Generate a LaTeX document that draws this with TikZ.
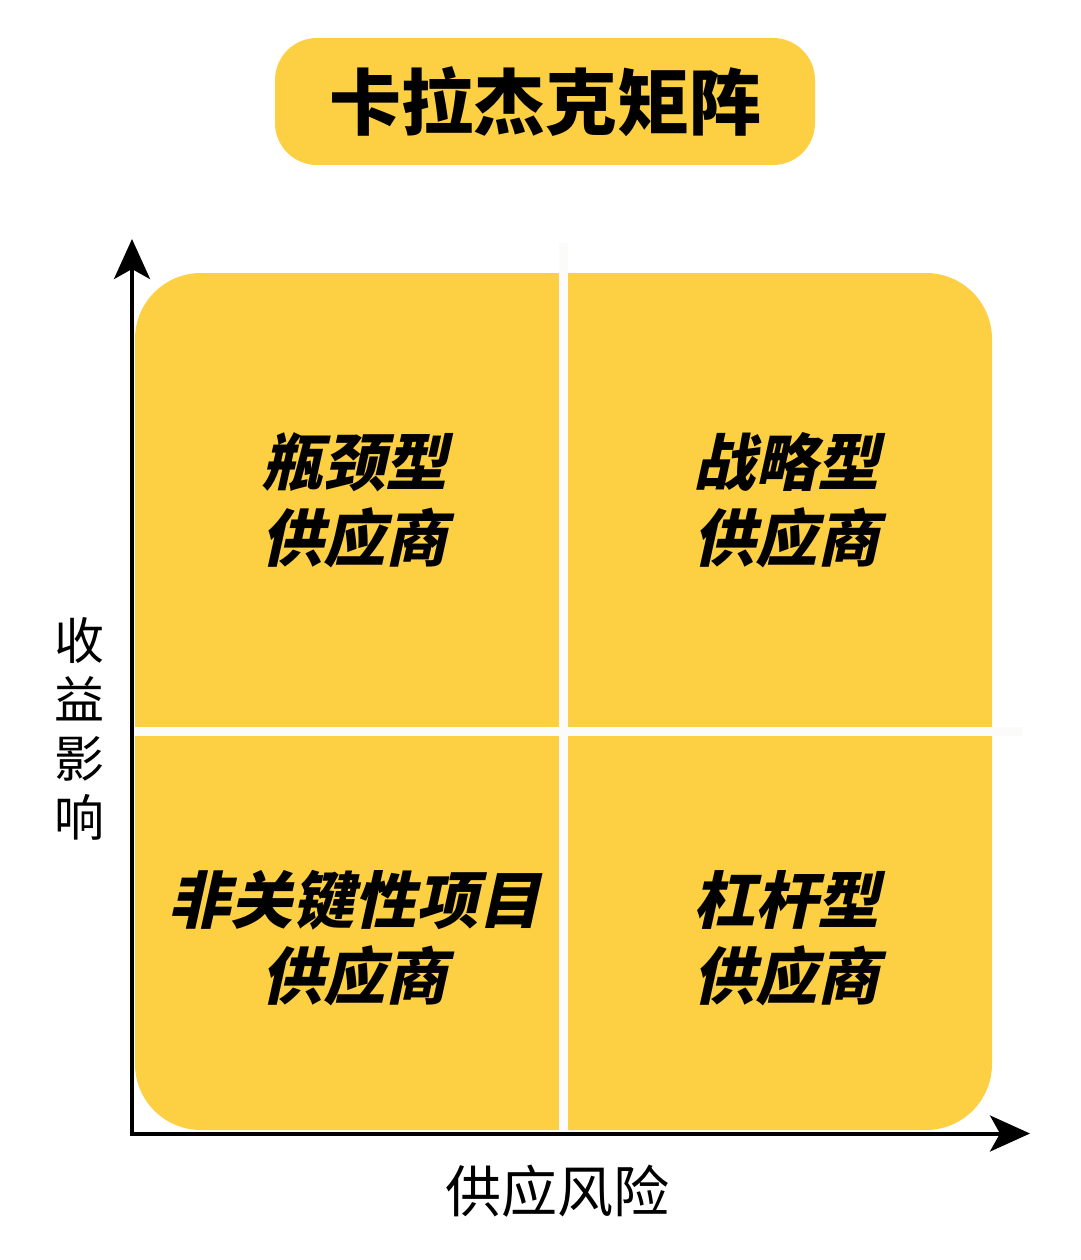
\documentclass[tikz,border=0pt]{standalone}
\usepackage{fontspec}
\newfontfamily\cjk{Noto Sans CJK SC}
\newfontfamily\cjkit[FakeSlant=0.22]{Noto Sans CJK SC}
\usetikzlibrary{arrows.meta}
\definecolor{ylw}{HTML}{FDD043}
\definecolor{offw}{HTML}{FBFBFA}
\tikzset{
  quadtext/.style={font=\cjkit\bfseries\fontsize{62}{76}\selectfont, align=center, text=black},
  axislabel/.style={font=\cjk\fontsize{56}{60}\selectfont, text=black},
  axisline/.style={line width=4pt, -{Stealth[length=40pt,width=36pt,inset=10pt]}},
  divider/.style={offw, line width=9pt}
}
\begin{document}
\begin{tikzpicture}[x=1pt,y=-1pt]
\useasboundingbox (0,0) rectangle (1080,1260);
% title
\node[fill=ylw, rounded corners=42pt, minimum width=540pt, minimum height=127pt, inner sep=0pt,
  font=\cjk\bfseries\fontsize{72}{76}\selectfont] (title) at (545,101.5) {卡拉杰克矩阵};
% matrix box
\node[fill=ylw, rounded corners=66pt, minimum width=857pt, minimum height=857pt, inner sep=0pt] (box) at (563.5,701.5) {};
% dividers
\coordinate (vtop) at (563,243);
\coordinate (vbot) at (563,1131);
\coordinate (hl) at (135,731.5);
\coordinate (hr) at (1022,731.5);
\draw[divider] (vtop) -- (vbot);
\draw[divider] (hl) -- (hr);
% axes
\coordinate (origin) at (132,1133.5);
\coordinate (ytip) at (132,239);
\coordinate (xtip) at (1030,1133.5);
\draw[axisline, line cap=rect] (origin) -- (ytip);
\draw[axisline, line cap=rect] (origin) -- (xtip);
% quadrant texts
\node[quadtext] (q1) at (354,500) {瓶颈型\\供应商};
\node[quadtext] (q2) at (786,500) {战略型\\供应商};
\node[quadtext] (q3) at (354,938) {非关键性项目\\供应商};
\node[quadtext] (q4) at (786,938) {杠杆型\\供应商};
% axis labels
\node[axislabel, align=center, font=\cjk\fontsize{50}{59}\selectfont] (ylab) at (79,729) {收\\益\\影\\响};
\node[axislabel] (xlab) at (557,1191) {供应风险};
\end{tikzpicture}
\end{document}
